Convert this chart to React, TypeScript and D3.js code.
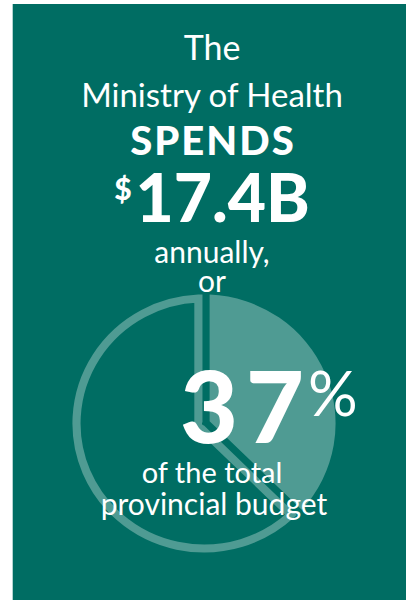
import React from 'react';
import * as d3 from 'd3';

// budget split, percent
const shareLabels = ['Ministry of Health', 'Rest of budget'];
const shareValues = [37, 63];

const headLines = ['The', 'Ministry of Health'];
const spendWord = 'SPENDS';
const amountUnit = '$';
const amountText = '17.4B';
const midLines = ['annually,', 'or'];
const shareText = '37';
const footLines = ['of the total', 'provincial budget'];

const W = 406;
const H = 600;
const GREEN = '#006d63';
const LIGHT = '#4f9b93';
const FONT = 'Lato, "Open Sans", sans-serif';

const App: React.FC = () => {
    const cx = 204;
    const cy = 423.5;
    const R = 129;
    const ring = 8;
    const gap = 11;

    const pie = d3.pie<number>()
        .sort(null)
        .padAngle(gap / R)
        .value(d => d);
    const slices = pie(shareValues);

    const corner = (s: d3.PieArcDatum<number>) => {
        const span = s.endAngle - s.startAngle;
        return (gap / 2) / Math.sin(Math.min(span, 2 * Math.PI - span) / 2);
    };

    const filled = d3.arc<d3.PieArcDatum<number>>()
        .innerRadius(d => corner(d))
        .outerRadius(R)
        .padRadius(R);
    const outline = d3.arc<d3.PieArcDatum<number>>()
        .innerRadius(d => corner(d))
        .outerRadius(R - ring / 2)
        .padRadius(R);

    const midX = 212;

    return (
        <svg width={W} height={H} style={{position: 'absolute', left: 0, top: 0}}
             fontFamily={FONT}>
            <rect x={0} y={0} width={W} height={H} fill="#fff"/>
            <rect x={12.7} y={4} width={W - 12.7} height={H - 4} fill={GREEN}/>

            {/* ellipse-ish: the source is a touch wider than tall */}
            <g transform={`translate(${cx},${cy}) scale(1.02,1)`}>
                {slices.map((s, i) => i === 0
                    ? <path key={shareLabels[i]} d={filled(s) || ''} fill={LIGHT}/>
                    : <path key={shareLabels[i]} d={outline(s) || ''} fill="none"
                            stroke={LIGHT} strokeWidth={ring} strokeLinejoin="miter"/>
                )}
            </g>

            <g fill="#fff" textAnchor="middle">
                <text x={midX} y={60} fontSize={34} fontWeight={400}>{headLines[0]}</text>
                <text x={midX} y={107} fontSize={33} fontWeight={400}>{headLines[1]}</text>
                <text x={midX + 1} y={155} fontSize={40} fontWeight={900} letterSpacing={2}>{spendWord}</text>
                <text x={midX} y={222} fontSize={66} fontWeight={900}>
                    <tspan fontSize={30} dy={-22}>{amountUnit}</tspan>
                    <tspan dy={22} dx={4}>{amountText}</tspan>
                </text>
                <text x={midX} y={263} fontSize={30} fontWeight={400}>{midLines[0]}</text>
                <text x={midX} y={292} fontSize={30} fontWeight={400}>{midLines[1]}</text>
                <text x={180} y={443} fontSize={100} fontWeight={900} textAnchor="start"
                      letterSpacing={8}>
                    {shareText}
                    <tspan fontSize={62} fontWeight={400} letterSpacing={0} dx={-4} dy={-27}>%</tspan>
                </text>
                <text x={midX} y={483} fontSize={29} fontWeight={400}>{footLines[0]}</text>
                <text x={midX + 2} y={515} fontSize={30} fontWeight={400}>{footLines[1]}</text>
            </g>
        </svg>
    );
};

export default App;
